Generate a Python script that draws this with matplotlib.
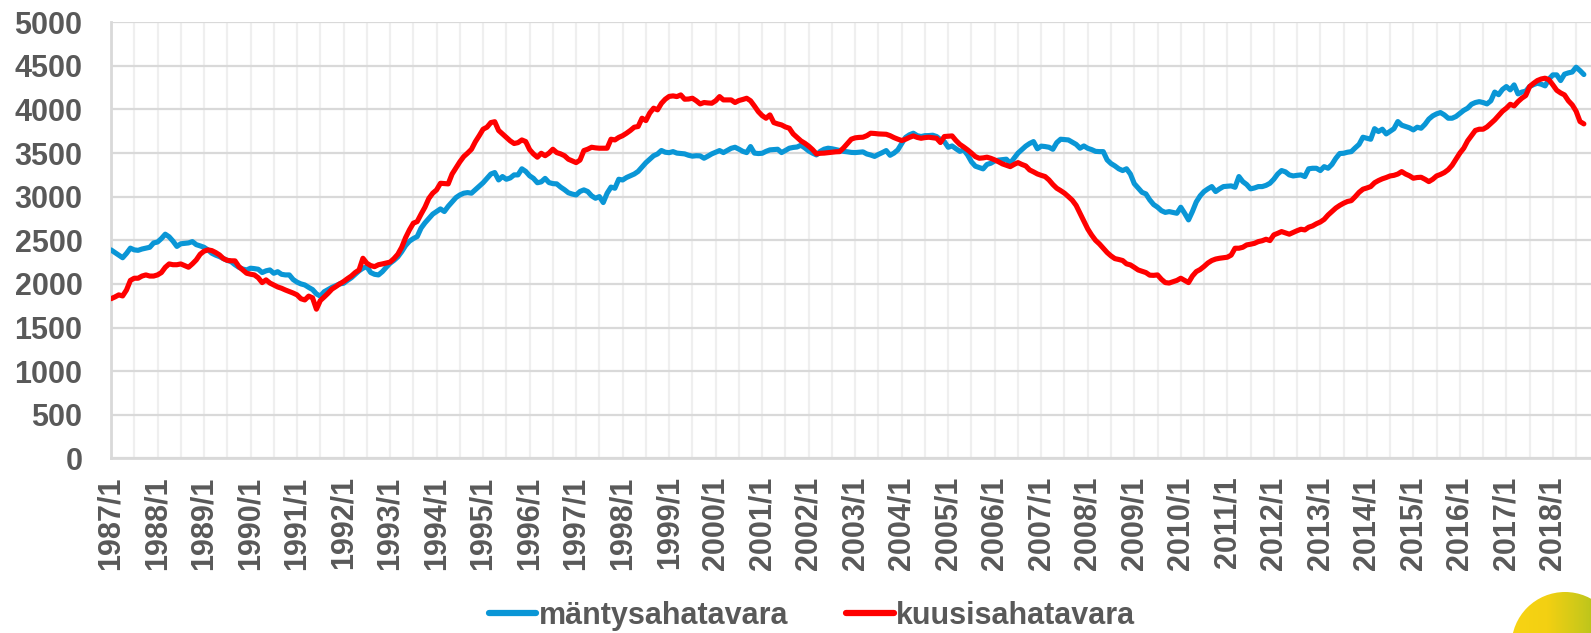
import numpy as np
import matplotlib
matplotlib.use("Agg")
import matplotlib.pyplot as plt
from matplotlib.patches import Circle
from matplotlib.colors import LinearSegmentedColormap

# monthly price series, Jan 1987 .. Sep 2018 (one row per year)
manty = [
    2390, 2360, 2330, 2300, 2350, 2410, 2390, 2385, 2400, 2410, 2420, 2470,
    2480, 2520, 2570, 2540, 2490, 2430, 2460, 2465, 2470, 2485, 2450, 2436,
    2420, 2390, 2352, 2330, 2313, 2290, 2270, 2255, 2220, 2190, 2170, 2160,
    2180, 2175, 2168, 2130, 2150, 2160, 2122, 2140, 2110, 2103, 2103, 2050,
    2020, 2000, 1988, 1960, 1935, 1885, 1860, 1910, 1935, 1960, 1980, 2000,
    2007, 2040, 2070, 2110, 2150, 2180, 2198, 2130, 2110, 2103, 2140, 2190,
    2237, 2270, 2310, 2370, 2440, 2490, 2520, 2543, 2640, 2700, 2750, 2800,
    2830, 2860, 2830, 2890, 2940, 2990, 3020, 3040, 3047, 3040, 3080, 3120,
    3160, 3210, 3260, 3277, 3192, 3231, 3200, 3215, 3250, 3250, 3320, 3290,
    3240, 3210, 3160, 3170, 3210, 3162, 3150, 3147, 3110, 3080, 3045, 3030,
    3020, 3060, 3078, 3059, 3010, 2982, 3001, 2933, 3040, 3110, 3097, 3200,
    3192, 3220, 3240, 3260, 3290, 3340, 3390, 3430, 3470, 3490, 3530, 3510,
    3505, 3517, 3500, 3495, 3491, 3475, 3465, 3470, 3468, 3441, 3465, 3491,
    3510, 3529, 3506, 3530, 3555, 3567, 3545, 3520, 3506, 3575, 3500, 3495,
    3498, 3520, 3537, 3540, 3544, 3506, 3530, 3556, 3565, 3570, 3590, 3560,
    3525, 3500, 3479, 3520, 3545, 3556, 3550, 3540, 3530, 3520, 3515, 3508,
    3506, 3510, 3514, 3490, 3478, 3462, 3485, 3506, 3529, 3475, 3500, 3537,
    3610, 3680, 3710, 3728, 3700, 3690, 3700, 3701, 3705, 3690, 3655, 3632,
    3567, 3582, 3550, 3520, 3537, 3479, 3400, 3350, 3335, 3319, 3370, 3384,
    3410, 3420, 3425, 3430, 3384, 3441, 3500, 3540, 3580, 3610, 3632, 3550,
    3580, 3575, 3567, 3544, 3620, 3659, 3655, 3651, 3625, 3600, 3556, 3582,
    3555, 3540, 3520, 3517, 3517, 3422, 3380, 3353, 3320, 3300, 3320, 3260,
    3150, 3100, 3050, 3032, 2963, 2910, 2880, 2840, 2820, 2829, 2820, 2810,
    2879, 2810, 2734, 2830, 2940, 3010, 3059, 3090, 3116, 3059, 3090, 3116,
    3120, 3124, 3108, 3231, 3173, 3140, 3090, 3100, 3116, 3116, 3130, 3154,
    3200, 3260, 3300, 3285, 3250, 3238, 3245, 3250, 3231, 3320, 3326, 3326,
    3300, 3345, 3326, 3370, 3440, 3495, 3498, 3510, 3517, 3560, 3600, 3682,
    3670, 3659, 3780, 3747, 3774, 3720, 3750, 3780, 3862, 3820, 3805, 3790,
    3766, 3797, 3785, 3830, 3890, 3927, 3950, 3965, 3938, 3900, 3900, 3920,
    3955, 3990, 4015, 4060, 4080, 4090, 4080, 4064, 4100, 4200, 4170, 4230,
    4263, 4225, 4282, 4179, 4200, 4210, 4263, 4285, 4301, 4290, 4271, 4350,
    4397, 4397, 4332, 4405, 4420, 4430, 4485, 4446, 4401,
]

kuusi = [
    1830, 1850, 1874, 1862, 1930, 2040, 2065, 2065, 2090, 2103, 2090, 2090,
    2103, 2130, 2190, 2229, 2220, 2220, 2229, 2210, 2191, 2230, 2275, 2340,
    2375, 2390, 2382, 2360, 2332, 2290, 2270, 2265, 2264, 2198, 2160, 2122,
    2111, 2103, 2070, 2015, 2046, 2010, 1988, 1965, 1950, 1930, 1912, 1895,
    1874, 1830, 1816, 1860, 1840, 1710, 1809, 1850, 1893, 1940, 1969, 2000,
    2027, 2060, 2090, 2130, 2160, 2294, 2237, 2210, 2198, 2220, 2229, 2240,
    2250, 2290, 2340, 2420, 2530, 2620, 2696, 2715, 2800, 2880, 2980, 3040,
    3078, 3154, 3150, 3147, 3260, 3330, 3400, 3460, 3500, 3544, 3630, 3700,
    3774, 3797, 3850, 3860, 3760, 3720, 3680, 3640, 3610, 3620, 3651, 3632,
    3540, 3490, 3453, 3498, 3470, 3500, 3544, 3506, 3491, 3470, 3430, 3410,
    3391, 3420, 3529, 3545, 3567, 3560, 3556, 3556, 3556, 3659, 3651, 3680,
    3700, 3728, 3760, 3797, 3805, 3900, 3873, 3960, 4015, 3996, 4070, 4118,
    4150, 4156, 4148, 4167, 4118, 4120, 4129, 4100, 4064, 4080, 4075, 4072,
    4100, 4148, 4110, 4110, 4110, 4080, 4103, 4115, 4129, 4100, 4040, 3976,
    3930, 3900, 3938, 3850, 3835, 3823, 3800, 3785, 3720, 3680, 3640, 3613,
    3580, 3540, 3491, 3498, 3500, 3505, 3510, 3515, 3517, 3560, 3610, 3660,
    3675, 3680, 3682, 3700, 3728, 3725, 3720, 3718, 3716, 3700, 3678, 3660,
    3644, 3659, 3680, 3697, 3680, 3670, 3678, 3682, 3676, 3670, 3621, 3690,
    3693, 3697, 3644, 3600, 3570, 3537, 3500, 3460, 3441, 3445, 3453, 3440,
    3422, 3400, 3376, 3360, 3345, 3370, 3391, 3370, 3353, 3307, 3285, 3261,
    3245, 3231, 3192, 3140, 3097, 3070, 3040, 3001, 2960, 2900, 2810, 2720,
    2630, 2560, 2500, 2459, 2409, 2360, 2321, 2290, 2280, 2268, 2230, 2218,
    2190, 2160, 2145, 2130, 2100, 2098, 2103, 2053, 2015, 2010, 2025, 2040,
    2065, 2040, 2015, 2090, 2141, 2165, 2200, 2240, 2268, 2285, 2294, 2300,
    2306, 2330, 2409, 2409, 2420, 2447, 2455, 2465, 2485, 2495, 2512, 2497,
    2562, 2580, 2600, 2585, 2570, 2590, 2610, 2627, 2619, 2650, 2665, 2690,
    2710, 2740, 2790, 2830, 2870, 2900, 2925, 2945, 2955, 3000, 3050, 3086,
    3100, 3116, 3160, 3185, 3205, 3220, 3238, 3245, 3260, 3288, 3260, 3240,
    3212, 3220, 3223, 3200, 3173, 3200, 3238, 3255, 3277, 3310, 3360, 3430,
    3500, 3556, 3640, 3700, 3760, 3774, 3774, 3800, 3840, 3881, 3930, 3980,
    4015, 4060, 4041, 4090, 4130, 4160, 4263, 4300, 4332, 4350, 4359, 4340,
    4282, 4220, 4190, 4167, 4100, 4053, 3980, 3862, 3835,
]

start_year = 1987
months = [f"{start_year + i // 12}/{i % 12 + 1}" for i in range(len(manty))]
year_labels = [m for m in months if m.endswith("/1")]

blue = "#0A96D6"
red = "#FF0000"
grey_txt = "#595959"

plt.rcParams["font.family"] = "Liberation Sans"

W, H = 1591, 633
fig = plt.figure(figsize=(W / 100, H / 100), dpi=100)
ax = fig.add_axes([111 / W, 1 - 458.3 / H, 1 - 111 / W, (458.3 - 22.3) / H])

x = np.arange(len(manty))
ax.plot(x, manty, color=blue, lw=3.7, solid_joinstyle="round", solid_capstyle="round",
        label="mäntysahatavara", zorder=3)
ax.plot(x, kuusi, color=red, lw=3.7, solid_joinstyle="round", solid_capstyle="round",
        label="kuusisahatavara", zorder=4)

ax.set_ylim(0, 5000)
ax.set_xlim(0, (W - 111) / 3.876)
ax.set_yticks(np.arange(0, 5001, 500))
ax.set_xticks([months.index(l) for l in year_labels])
ax.set_xticklabels(year_labels, rotation=90)
ax.set_xticks(np.arange(0, len(manty), 6), minor=True)

ax.grid(axis="y", color="#D9D9D9", lw=1.6, zorder=0)
ax.grid(axis="x", which="both", color="#EFEFEF", lw=1.6, zorder=0)
ax.tick_params(axis="both", which="both", length=0)
ax.tick_params(axis="y", pad=20.5, labelsize=22, labelcolor=grey_txt)
ax.tick_params(axis="x", pad=13, labelsize=22, labelcolor=grey_txt)
for lab in ax.get_xticklabels() + ax.get_yticklabels():
    lab.set_fontweight("bold")

for s in ["top", "right"]:
    ax.spines[s].set_visible(False)
for s in ["left", "bottom"]:
    ax.spines[s].set_color("#D9D9D9")
    ax.spines[s].set_linewidth(2)

leg = fig.legend(loc="center", bbox_to_anchor=(812 / W, 1 - 616 / H), ncol=2,
                 frameon=False, handlelength=1.55, handletextpad=0.08, columnspacing=1.9,
                 prop={"weight": "bold", "size": 22})
for t in leg.get_texts():
    t.set_color(grey_txt)
for h in leg.get_lines():
    h.set_linewidth(4.5)

# corner logo: yellow-green disc
lax = fig.add_axes([0, 0, 1, 1], zorder=-1)
lax.set_xlim(0, W)
lax.set_ylim(H, 0)
lax.axis("off")
cmap = LinearSegmentedColormap.from_list("logo", ["#F8D414", "#F3D012", "#C9C81A", "#96BC1E"])
grad = np.tile(np.linspace(0, 1, 200), (50, 1))
circ = Circle((1565, 645.5), 53.5, transform=lax.transData)
im = lax.imshow(grad, cmap=cmap, extent=(1511, 1619, 699, 592), aspect="auto")
im.set_clip_path(circ)

fig.savefig("out.png", dpi=100)
